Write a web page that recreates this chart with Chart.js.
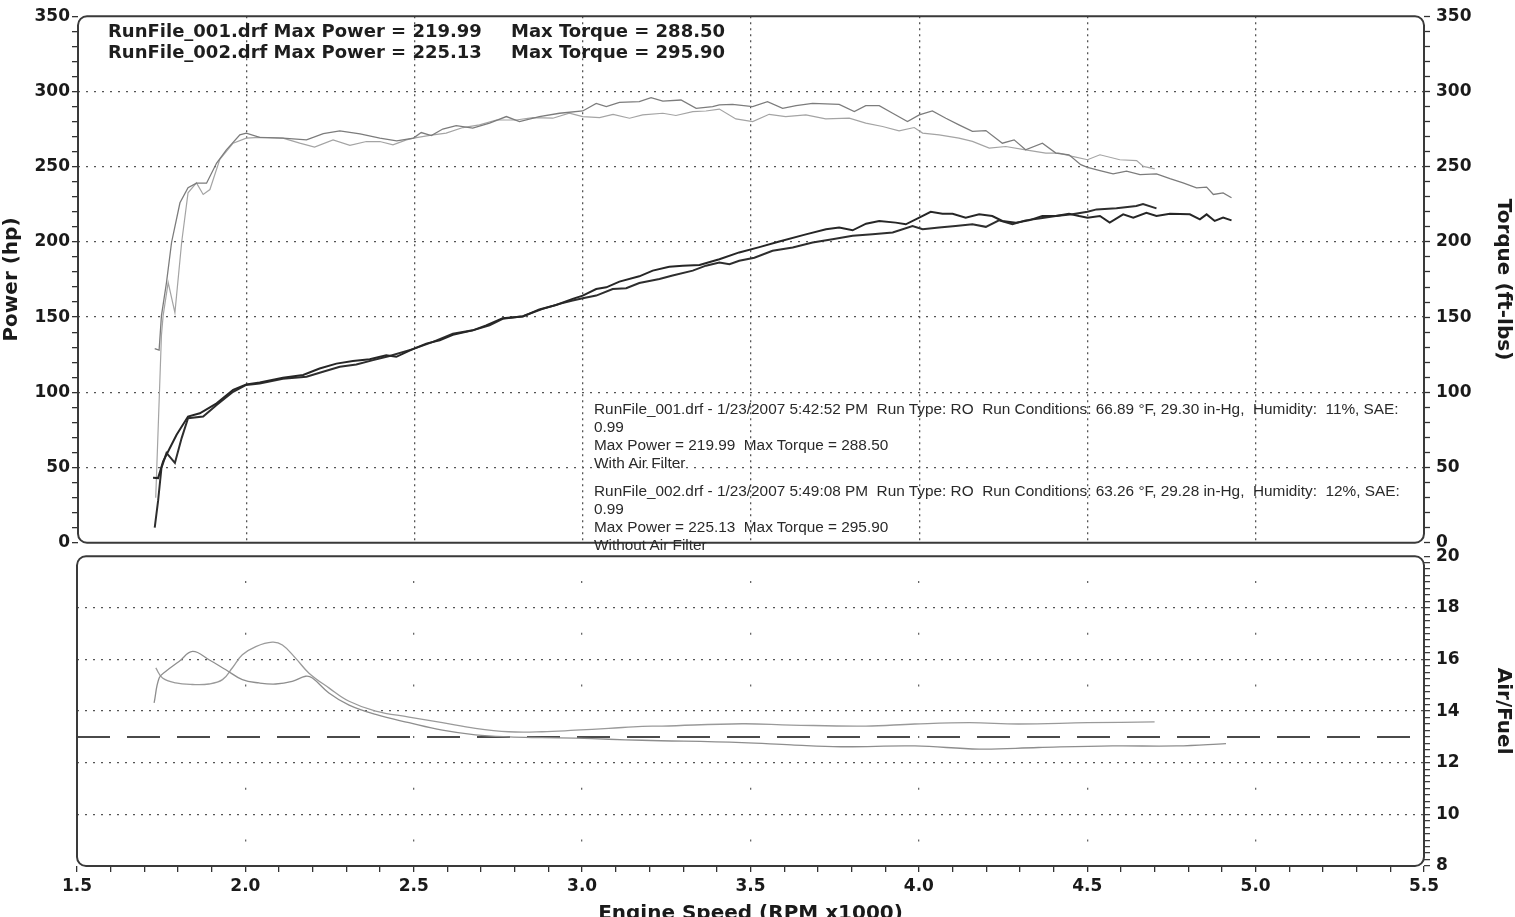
<!DOCTYPE html>
<html>
<head>
<meta charset="utf-8">
<script src="https://cdn.jsdelivr.net/npm/chart.js@4.4.1/dist/chart.umd.min.js"></script>
<style>
  html, body { margin: 0; padding: 0; background: #fff; width: 1515px; height: 917px; overflow: hidden; }
  canvas { position: absolute; left: 0; }
  #top { top: 0; }
  #bottom { top: 540px; }
  .hdr { position: absolute; font: bold 18px "DejaVu Sans", sans-serif; color: #1e1e1e; line-height: 20px; white-space: pre; }
  .info { position: absolute; left: 594px; font: 14px "Liberation Sans", Arial, sans-serif; color: #2a2a2a; line-height: 18px; white-space: pre; transform: scaleX(1.097); transform-origin: 0 0; }
</style>
</head>
<body>
<canvas id="top" width="1515" height="559"></canvas>
<canvas id="bottom" width="1515" height="390"></canvas>

<div class="hdr" style="left:108px; top:21px;">RunFile_001.drf Max Power = 219.99</div>
<div class="hdr" style="left:511px; top:21px;">Max Torque = 288.50</div>
<div class="hdr" style="left:108px; top:42px;">RunFile_002.drf Max Power = 225.13</div>
<div class="hdr" style="left:511px; top:42px;">Max Torque = 295.90</div>

<div class="info" style="top:400px;">RunFile_001.drf - 1/23/2007 5:42:52 PM  Run Type: RO  Run Conditions: 66.89 °F, 29.30 in-Hg,  Humidity:  11%, SAE:
0.99
Max Power = 219.99  Max Torque = 288.50
With Air Filter</div>
<div class="info" style="top:482px;">RunFile_002.drf - 1/23/2007 5:49:08 PM  Run Type: RO  Run Conditions: 63.26 °F, 29.28 in-Hg,  Humidity:  12%, SAE:
0.99
Max Power = 225.13  Max Torque = 295.90
Without Air Filter</div>

<script>
// --- Datos (RPM x1000) ---
const rpmPower1 = [1.723, 1.738, 1.753, 1.773, 1.793, 1.827, 1.862, 1.912, 1.961, 2.000, 2.040, 2.109, 2.169, 2.218, 2.268, 2.317, 2.367, 2.416, 2.446, 2.495, 2.535, 2.575, 2.614, 2.673, 2.713, 2.762, 2.822, 2.871, 2.921, 2.970, 3.000, 3.040, 3.070, 3.109, 3.168, 3.208, 3.257, 3.297, 3.347, 3.406, 3.465, 3.525, 3.584, 3.663, 3.723, 3.762, 3.802, 3.842, 3.881, 3.930, 3.960, 4.000, 4.034, 4.069, 4.099, 4.138, 4.178, 4.217, 4.247, 4.287, 4.326, 4.366, 4.406, 4.445, 4.475, 4.500, 4.537, 4.566, 4.606, 4.636, 4.675, 4.705, 4.745, 4.804, 4.834, 4.854, 4.878, 4.903, 4.928];
const power1 = [43.2, 43.0, 54.2, 63.0, 71.8, 83.9, 86.1, 92.7, 101.6, 105.3, 106.6, 109.7, 111.5, 115.8, 119.1, 120.9, 122.0, 124.7, 123.6, 128.7, 132.4, 134.6, 138.3, 141.2, 144.5, 149.3, 150.4, 155.1, 158.1, 162.1, 164.3, 168.7, 169.8, 173.6, 177.1, 180.9, 183.5, 184.2, 184.6, 188.5, 193.0, 196.5, 200.2, 205.0, 208.4, 209.5, 207.7, 212.1, 213.9, 212.8, 211.7, 216.1, 220.0, 218.7, 218.7, 216.1, 218.3, 217.2, 213.9, 212.8, 214.3, 217.2, 217.2, 218.7, 217.2, 216.1, 217.2, 212.8, 218.3, 216.1, 219.4, 217.2, 218.7, 218.3, 215.0, 218.3, 213.9, 216.1, 214.3];

const rpmPower2 = [1.728, 1.738, 1.748, 1.763, 1.788, 1.808, 1.827, 1.872, 1.912, 1.961, 2.000, 2.040, 2.109, 2.179, 2.228, 2.278, 2.327, 2.377, 2.426, 2.495, 2.555, 2.614, 2.673, 2.723, 2.762, 2.822, 2.881, 2.931, 2.970, 3.000, 3.040, 3.089, 3.129, 3.168, 3.228, 3.267, 3.327, 3.366, 3.406, 3.436, 3.465, 3.510, 3.564, 3.624, 3.683, 3.742, 3.802, 3.861, 3.921, 3.980, 4.010, 4.059, 4.108, 4.158, 4.198, 4.237, 4.277, 4.316, 4.356, 4.406, 4.455, 4.500, 4.527, 4.586, 4.645, 4.665, 4.705];
const power2 = [10.1, 27.8, 49.8, 59.7, 53.1, 69.6, 82.8, 83.9, 91.6, 100.4, 104.9, 105.9, 109.0, 110.4, 113.7, 117.0, 118.5, 121.4, 124.2, 128.7, 133.5, 139.0, 141.2, 144.5, 148.9, 150.6, 155.5, 158.8, 161.0, 162.6, 164.3, 168.7, 169.2, 172.7, 175.3, 177.6, 180.9, 184.2, 186.3, 185.2, 187.5, 189.5, 194.1, 196.3, 199.6, 201.8, 204.0, 205.0, 206.2, 210.6, 208.4, 209.5, 210.6, 211.7, 210.0, 214.3, 211.7, 214.3, 215.6, 217.2, 218.3, 220.0, 221.6, 222.3, 223.8, 225.1, 222.3];

const rpmTorque1 = [1.728, 1.741, 1.748, 1.763, 1.778, 1.803, 1.827, 1.852, 1.882, 1.912, 1.941, 1.981, 2.000, 2.040, 2.109, 2.179, 2.229, 2.278, 2.338, 2.397, 2.447, 2.497, 2.520, 2.550, 2.584, 2.624, 2.673, 2.723, 2.773, 2.812, 2.871, 2.931, 3.000, 3.040, 3.070, 3.109, 3.168, 3.203, 3.238, 3.292, 3.337, 3.386, 3.406, 3.445, 3.505, 3.549, 3.594, 3.634, 3.683, 3.762, 3.807, 3.841, 3.881, 3.921, 3.965, 4.000, 4.039, 4.079, 4.118, 4.158, 4.198, 4.247, 4.282, 4.316, 4.366, 4.406, 4.445, 4.480, 4.500, 4.537, 4.576, 4.616, 4.656, 4.705, 4.745, 4.784, 4.824, 4.854, 4.874, 4.903, 4.928];
const torque1 = [129, 128, 151, 173, 199.6, 226, 236, 239, 239, 252.4, 261.2, 271.1, 272.3, 269.4, 269.0, 267.8, 272.0, 273.8, 271.8, 269.0, 267.2, 269.0, 272.7, 270.7, 275.0, 277.3, 275.6, 278.9, 283.3, 280.0, 283.3, 285.5, 287.0, 292.0, 289.9, 292.7, 293.2, 295.8, 293.6, 294.3, 288.8, 289.9, 291.0, 291.4, 289.9, 293.2, 288.8, 290.5, 292.0, 291.4, 286.6, 290.5, 290.5, 285.5, 280.0, 284.4, 287.0, 282.2, 277.8, 273.4, 274.0, 265.6, 267.8, 261.2, 265.6, 259.0, 257.9, 251.3, 249.6, 247.4, 245.2, 247.0, 244.7, 245.2, 242.0, 239.2, 235.9, 236.4, 231.5, 232.6, 229.3];

const rpmTorque2 = [1.731, 1.748, 1.753, 1.768, 1.788, 1.808, 1.827, 1.852, 1.872, 1.892, 1.921, 1.961, 2.000, 2.040, 2.109, 2.159, 2.203, 2.258, 2.308, 2.357, 2.397, 2.436, 2.476, 2.497, 2.550, 2.594, 2.644, 2.693, 2.743, 2.802, 2.852, 2.911, 2.960, 3.000, 3.050, 3.090, 3.139, 3.178, 3.238, 3.277, 3.327, 3.366, 3.406, 3.455, 3.505, 3.554, 3.603, 3.663, 3.722, 3.792, 3.841, 3.891, 3.940, 3.985, 4.010, 4.059, 4.118, 4.158, 4.208, 4.257, 4.316, 4.376, 4.415, 4.455, 4.500, 4.537, 4.596, 4.646, 4.666, 4.700];
const torque2 = [30, 138, 151, 173, 153, 199.6, 232.6, 239.2, 231.5, 234.8, 254.6, 265.6, 269.0, 269.4, 269.0, 265.6, 263.0, 267.8, 264.1, 266.7, 266.7, 264.5, 267.8, 269.0, 271.0, 272.3, 276.0, 277.8, 281.0, 281.0, 282.6, 282.2, 285.5, 283.3, 282.6, 284.8, 282.2, 284.4, 285.5, 284.0, 286.6, 287.0, 288.3, 281.7, 280.0, 284.8, 283.3, 284.4, 281.7, 282.2, 278.9, 276.7, 273.8, 276.0, 272.3, 271.1, 269.0, 266.8, 262.3, 263.4, 261.2, 259.0, 259.0, 256.8, 254.6, 257.9, 254.6, 254.0, 250.2, 248.5];

const rpmAfr1 = [1.729, 1.744, 1.764, 1.803, 1.843, 1.892, 1.942, 1.991, 2.041, 2.090, 2.139, 2.179, 2.199, 2.248, 2.308, 2.387, 2.486, 2.585, 2.683, 2.782, 2.881, 2.980, 3.079, 3.178, 3.475, 3.621, 3.768, 3.988, 4.179, 4.355, 4.575, 4.766, 4.912];
const afr1 = [14.32, 15.28, 15.54, 15.92, 16.31, 15.99, 15.60, 15.22, 15.09, 15.05, 15.15, 15.35, 15.28, 14.70, 14.23, 13.87, 13.55, 13.26, 13.08, 13.00, 12.97, 12.95, 12.91, 12.87, 12.78, 12.69, 12.62, 12.65, 12.53, 12.59, 12.65, 12.65, 12.74];

const rpmAfr2 = [1.734, 1.754, 1.793, 1.843, 1.892, 1.932, 1.961, 1.991, 2.031, 2.080, 2.110, 2.149, 2.189, 2.248, 2.308, 2.387, 2.486, 2.585, 2.683, 2.782, 2.881, 2.980, 3.079, 3.178, 3.237, 3.475, 3.621, 3.842, 3.988, 4.150, 4.296, 4.501, 4.700];
const afr2 = [15.67, 15.28, 15.09, 15.03, 15.05, 15.22, 15.67, 16.18, 16.50, 16.67, 16.56, 16.05, 15.47, 14.90, 14.38, 14.00, 13.77, 13.55, 13.33, 13.20, 13.20, 13.26, 13.33, 13.41, 13.42, 13.51, 13.46, 13.42, 13.50, 13.55, 13.50, 13.55, 13.58];

const rpmAfrTarget = [1.5, 5.5];
const afrTarget = [13.0, 13.0];

const pts = (xs, ys) => xs.map((x, i) => ({ x: x, y: ys[i] }));
const isHalf = v => Math.abs(v * 2 - Math.round(v * 2)) < 1e-6;

Chart.defaults.font.family = '"DejaVu Sans", sans-serif';
Chart.defaults.font.weight = 'bold';
Chart.defaults.font.size = 17;
Chart.defaults.color = '#1a1a1a';

// marco redondeado alrededor del área del gráfico
const marco = {
    id: 'marco',
    afterDatasetsDraw(chart) {
        const { ctx, chartArea: a } = chart;
        ctx.save();
        ctx.strokeStyle = '#3a3a3a';
        ctx.lineWidth = 2;
        ctx.beginPath();
        ctx.roundRect(a.left, a.top, a.right - a.left, a.bottom - a.top, 9);
        ctx.stroke();
        ctx.restore();
    }
};

const tituloEje = (text, padding) => ({
    display: true, text: text, font: { size: 20, weight: 'bold' }, padding: padding
});

// Panel superior: potencia y par
new Chart(document.getElementById('top'), {
    type: 'line',
    data: {
        datasets: [
            { label: 'RunFile_001 Power', data: pts(rpmPower1, power1), yAxisID: 'yPow', borderColor: '#262626', borderWidth: 2 },
            { label: 'RunFile_002 Power', data: pts(rpmPower2, power2), yAxisID: 'yPow', borderColor: '#2e2e2e', borderWidth: 2 },
            { label: 'RunFile_001 Torque', data: pts(rpmTorque1, torque1), yAxisID: 'yTq', borderColor: '#7c7c7c', borderWidth: 1.3 },
            { label: 'RunFile_002 Torque', data: pts(rpmTorque2, torque2), yAxisID: 'yTq', borderColor: '#a4a4a4', borderWidth: 1.2 }
        ]
    },
    options: {
        responsive: false,
        animation: false,
        parsing: false,
        elements: { point: { radius: 0 }, line: { tension: 0 } },
        layout: { padding: { top: 14, left: 0, right: 0, bottom: 0 } },
        plugins: { legend: { display: false }, tooltip: { enabled: false } },
        scales: {
            x: {
                type: 'linear', min: 1.5, max: 5.5,
                ticks: { display: false, stepSize: 0.5 },
                grid: {
                    drawTicks: false, lineWidth: 1.3,
                    color: c => (c.tick && c.tick.value > 1.51 && c.tick.value < 5.49) ? '#555' : 'rgba(0,0,0,0)'
                },
                border: { display: false, dash: [2, 4] },
                afterFit: s => { s.height = 11; }
            },
            yPow: {
                position: 'left', min: 0, max: 350,
                ticks: { stepSize: 10, autoSkip: false, padding: 2, callback: v => (v % 50 === 0 ? v : '') },
                grid: {
                    lineWidth: 1.3, tickLength: 6, tickColor: '#333', tickWidth: 1.3,
                    color: c => (c.tick && c.tick.value % 50 === 0 && c.tick.value > 0 && c.tick.value < 350) ? '#555' : 'rgba(0,0,0,0)'
                },
                border: { display: false, dash: [2, 6] },
                title: tituloEje('Power (hp)', { top: 0, bottom: 5 }),
                afterFit: s => { s.width = 78; }
            },
            yTq: {
                position: 'right', min: 0, max: 350,
                ticks: { stepSize: 10, autoSkip: false, padding: 6, callback: v => (v % 50 === 0 ? v : '') },
                grid: { drawOnChartArea: false, tickLength: 6, tickColor: '#333', tickWidth: 1.3 },
                border: { display: false },
                title: tituloEje('Torque (ft-lbs)', { top: 0, bottom: 15 }),
                afterFit: s => { s.width = 91; }
            }
        }
    },
    plugins: [marco]
});

// Panel inferior: relación aire/combustible
new Chart(document.getElementById('bottom'), {
    type: 'line',
    data: {
        datasets: [
            { label: 'RunFile_001 A/F', data: pts(rpmAfr1, afr1), yAxisID: 'yAf', borderColor: '#8e8e8e', borderWidth: 1.3, tension: 0.4 },
            { label: 'RunFile_002 A/F', data: pts(rpmAfr2, afr2), yAxisID: 'yAf', borderColor: '#9a9a9a', borderWidth: 1.3, tension: 0.4 },
            { label: 'Target', data: pts(rpmAfrTarget, afrTarget), yAxisID: 'yAf', borderColor: '#4a4a4a', borderWidth: 2, borderDash: [33, 17] }
        ]
    },
    options: {
        responsive: false,
        animation: false,
        parsing: false,
        elements: { point: { radius: 0 } },
        layout: { padding: { top: 10, left: 77, right: 0, bottom: 0 } },
        plugins: { legend: { display: false }, tooltip: { enabled: false } },
        scales: {
            x: {
                type: 'linear', min: 1.5, max: 5.5,
                ticks: { stepSize: 0.1, autoSkip: false, maxRotation: 0, padding: 4, callback: v => (isHalf(v) ? v.toFixed(1) : '') },
                grid: {
                    lineWidth: 1.3, tickLength: 6, tickColor: '#333', tickWidth: 1.3,
                    color: c => (c.tick && isHalf(c.tick.value) && c.tick.value > 1.51 && c.tick.value < 5.49) ? '#666' : 'rgba(0,0,0,0)'
                },
                border: { display: false, dash: [2, 49.7], dashOffset: 26.9 },
                title: tituloEje('Engine Speed (RPM x1000)', { top: 4, bottom: 4 }),
                afterFit: s => { s.height = 64; }
            },
            yAf: {
                position: 'right', min: 8, max: 20,
                ticks: { stepSize: 0.25, autoSkip: false, padding: 6, callback: v => (Math.abs(v % 2) < 1e-6 ? v : '') },
                grid: {
                    lineWidth: 1.3, tickLength: 6, tickColor: '#333', tickWidth: 1.2,
                    color: c => (c.tick && Math.abs(c.tick.value % 2) < 1e-6 && c.tick.value > 8 && c.tick.value < 20) ? '#555' : 'rgba(0,0,0,0)'
                },
                border: { display: false, dash: [2, 6] },
                title: tituloEje('Air/Fuel', { top: 0, bottom: 15 }),
                afterFit: s => { s.width = 91; }
            }
        }
    },
    plugins: [marco]
});
</script>
</body>
</html>
